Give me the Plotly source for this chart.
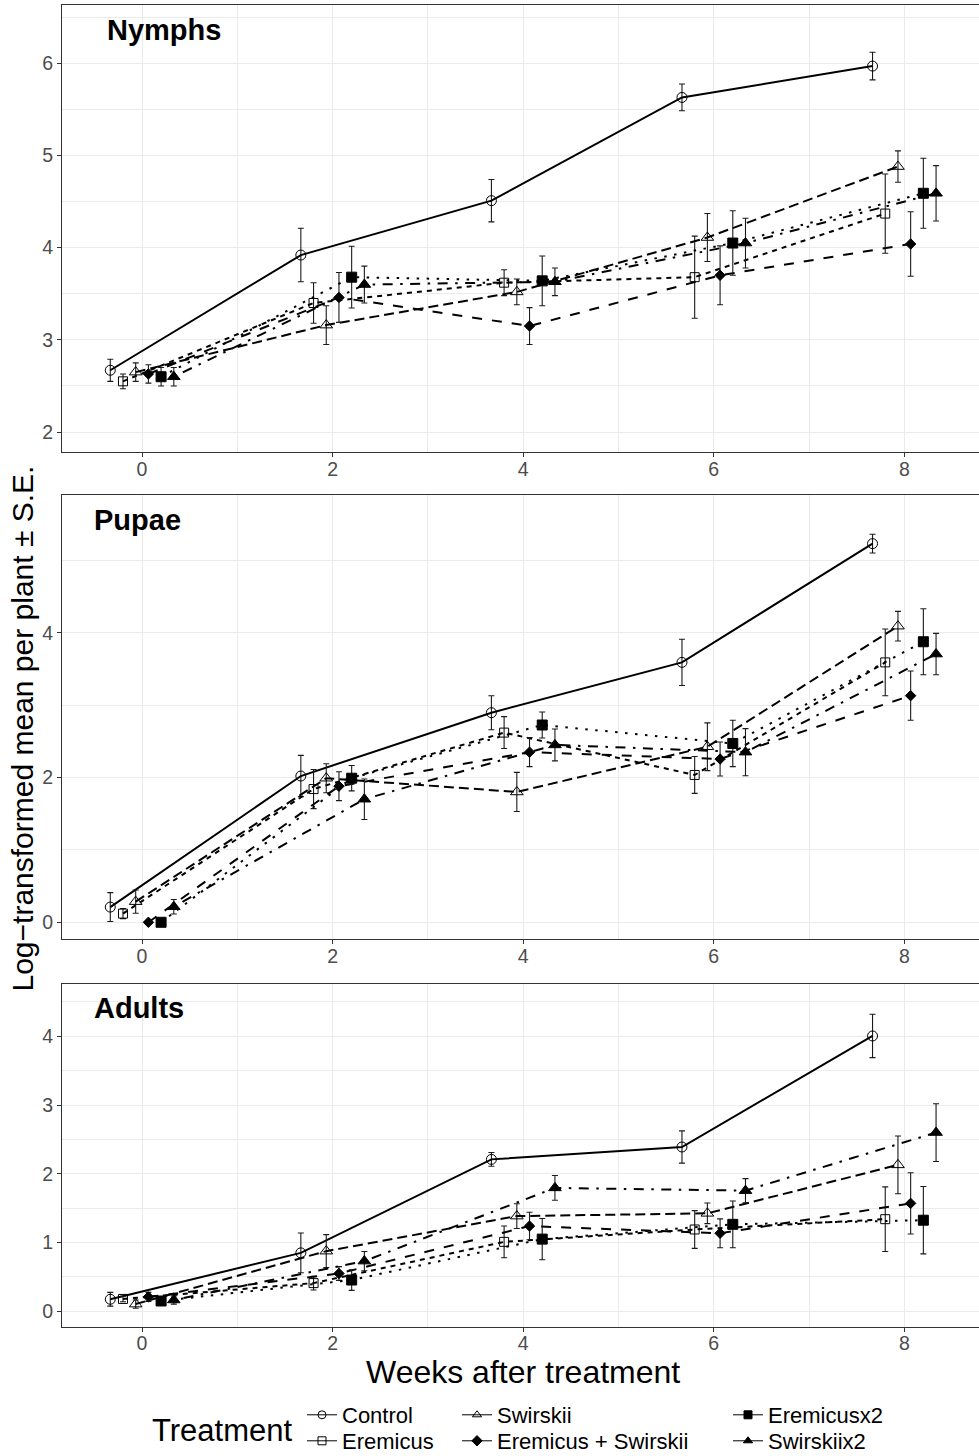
import plotly.graph_objects as go

weeks = [0, 2, 4, 6, 8]
treatments = ["Control", "Eremicus", "Swirskii", "Eremicus + Swirskii", "Eremicusx2", "Swirskiix2"]
dodge = [-1/3, -0.2, -1/15, 1/15, 0.2, 1/3]

# Nymphs
nym_mean = {
    "Control": [2.67, 3.92, 4.51, 5.63, 5.97],
    "Eremicus": [2.55, 3.40, 3.62, 3.68, 4.37],
    "Swirskii": [2.65, 3.16, 3.52, 4.11, 4.88],
    "Eremicus + Swirskii": [2.63, 3.46, 3.15, 3.70, 4.04],
    "Eremicusx2": [2.60, 3.68, 3.64, 4.05, 4.59],
    "Swirskiix2": [2.60, 3.60, 3.63, 4.05, 4.59],
}
nym_se = {
    "Control": [0.12, 0.29, 0.23, 0.145, 0.15],
    "Eremicus": [0.08, 0.22, 0.14, 0.445, 0.43],
    "Swirskii": [0.10, 0.21, 0.14, 0.26, 0.17],
    "Eremicus + Swirskii": [0.10, 0.27, 0.20, 0.32, 0.35],
    "Eremicusx2": [0.10, 0.335, 0.27, 0.35, 0.38],
    "Swirskiix2": [0.10, 0.20, 0.15, 0.27, 0.30],
}
# Pupae
pup_mean = {
    "Control": [0.21, 2.02, 2.895, 3.59, 5.23],
    "Eremicus": [0.12, 1.84, 2.62, 2.035, 3.59],
    "Swirskii": [0.285, 1.99, 1.80, 2.425, 4.09],
    "Eremicus + Swirskii": [0.0, 1.88, 2.35, 2.255, 3.13],
    "Eremicusx2": [0.0, 1.99, 2.725, 2.47, 3.875],
    "Swirskiix2": [0.215, 1.70, 2.45, 2.35, 3.705],
}
pup_se = {
    "Control": [0.20, 0.285, 0.235, 0.32, 0.13],
    "Eremicus": [0.07, 0.27, 0.22, 0.255, 0.46],
    "Swirskii": [0.16, 0.20, 0.27, 0.33, 0.205],
    "Eremicus + Swirskii": [0.0, 0.20, 0.20, 0.235, 0.34],
    "Eremicusx2": [0.0, 0.175, 0.18, 0.32, 0.455],
    "Swirskiix2": [0.10, 0.28, 0.22, 0.325, 0.285],
}
# Adults
adu_mean = {
    "Control": [0.175, 0.85, 2.21, 2.39, 4.005],
    "Eremicus": [0.18, 0.41, 1.01, 1.19, 1.34],
    "Swirskii": [0.105, 0.875, 1.385, 1.425, 2.13],
    "Eremicus + Swirskii": [0.21, 0.55, 1.24, 1.135, 1.57],
    "Eremicusx2": [0.15, 0.455, 1.05, 1.265, 1.325],
    "Swirskiix2": [0.165, 0.73, 1.795, 1.755, 2.60],
}
adu_se = {
    "Control": [0.10, 0.29, 0.10, 0.235, 0.315],
    "Eremicus": [0.04, 0.10, 0.23, 0.275, 0.47],
    "Swirskii": [0.06, 0.24, 0.18, 0.15, 0.42],
    "Eremicus + Swirskii": [0.065, 0.10, 0.20, 0.21, 0.445],
    "Eremicusx2": [0.05, 0.15, 0.30, 0.34, 0.49],
    "Swirskiix2": [0.06, 0.14, 0.18, 0.175, 0.42],
}
panel_titles = ["Nymphs", "Pupae", "Adults"]
x_ticks = [0, 2, 4, 6, 8]

# styles
symbols = ["circle-open", "square-open", "triangle-up-open", "diamond", "square", "triangle-up"]
msizes = [10, 9, 11, 8, 10, 11]
dashes = ["solid", "5px,5px", "10px,5px", "10px,10px", "2.5px,7.5px", "2.5px,7.5px,10px,7.5px"]
FONT = "Liberation Sans, Arial, Helvetica, sans-serif"

W, H = 979, 1456
L = 62
panels = [
    (panel_titles[0], nym_mean, nym_se, (4.7, 452.3), [1.78, 6.636], [2, 3, 4, 5, 6], [2.5, 3.5, 4.5, 5.5, 6.5]),
    (panel_titles[1], pup_mean, pup_se, (494.7, 939.3), [-0.235, 5.906], [0, 2, 4], [1, 3, 5]),
    (panel_titles[2], adu_mean, adu_se, (984.0, 1326.7), [-0.224, 4.761], [0, 1, 2, 3, 4], [0.5, 1.5, 2.5, 3.5, 4.5]),
]

fig = go.Figure()
layout = dict()
annotations = []
for p, (title, means, ses, (top, bot), yr, ytv, ymv) in enumerate(panels):
    ax = "" if p == 0 else str(p + 1)
    for i, t in enumerate(treatments):
        xs = [w + dodge[i] for w in weeks]
        fig.add_trace(go.Scatter(
            x=xs, y=means[t], mode="lines+markers", name=t, showlegend=False,
            xaxis="x" + ax, yaxis="y" + ax,
            line=dict(color="black", width=2, dash=dashes[i]),
            marker=dict(symbol=symbols[i], size=msizes[i], color="black",
                        line=dict(color="black", width=1)),
            error_y=dict(type="data", array=ses[t], visible=True, color="#1a1a1a",
                         thickness=1.1, width=3),
        ))
    dom = [1 - bot / H, 1 - top / H]
    layout["xaxis" + ax] = dict(
        domain=[0, 1], anchor="y" + ax, range=[-0.84, 8.784],
        tickvals=x_ticks, ticks="outside", ticklen=4, tickcolor="#333333", tickwidth=1,
        ticklabelstandoff=-5,
        showline=True, linecolor="#333333", linewidth=1, mirror=True,
        showgrid=True, gridcolor="#EBEBEB", gridwidth=1.1, zeroline=False,
        minor=dict(tickvals=[-1, 1, 3, 5, 7], showgrid=True, gridcolor="#EBEBEB", gridwidth=0.6, ticks=""),
        tickfont=dict(family=FONT, size=19.5, color="#4D4D4D"),
    )
    layout["yaxis" + ax] = dict(
        domain=dom, anchor="x" + ax, range=yr,
        tickvals=ytv, ticks="outside", ticklen=4, tickcolor="#333333", tickwidth=1,
        showline=True, linecolor="#333333", linewidth=1, mirror=False,
        showgrid=True, gridcolor="#EBEBEB", gridwidth=1.1, zeroline=False,
        minor=dict(tickvals=ymv, showgrid=True, gridcolor="#EBEBEB", gridwidth=0.6, ticks=""),
        tickfont=dict(family=FONT, size=19.5, color="#4D4D4D"),
    )

# panel titles
title_pos = [(105, 30), (92, 520), (92, 1008)]
for (px, py), txt in zip(title_pos, panel_titles):
    annotations.append(dict(text="<b>%s</b>" % txt, x=(px - L) / (W - L), y=1 - py / H,
                            xref="paper", yref="paper", xanchor="left", yanchor="middle",
                            showarrow=False, font=dict(family=FONT, size=29, color="black")))

annotations.append(dict(text="Weeks after treatment", x=(523 - L) / (W - L), y=1 - 1372 / H,
                        xref="paper", yref="paper", xanchor="center", yanchor="middle",
                        showarrow=False, font=dict(family=FONT, size=32, color="black")))
annotations.append(dict(text="Log\u2212transformed mean per plant \u00b1 S.E.", x=(21.5 - L) / (W - L),
                        y=1 - 729 / H, xref="paper", yref="paper", xanchor="center", yanchor="middle",
                        textangle=-90, showarrow=False, font=dict(family=FONT, size=30, color="black")))
annotations.append(dict(text="Treatment", x=(150 - L) / (W - L), y=1 - 1430 / H,
                        xref="paper", yref="paper", xanchor="left", yanchor="middle",
                        showarrow=False, font=dict(family=FONT, size=31, color="black")))

# legends: one per entry, arranged in 3 columns x 2 rows (column-wise order)
leg_cols = [302, 457, 728]
leg_rows = [1415, 1441]
for i, t in enumerate(treatments):
    lname = "legend" if i == 0 else "legend%d" % (i + 1)
    col, row = i // 2, i % 2
    fig.add_trace(go.Scatter(
        x=[None], y=[None], mode="lines+markers", name=t, showlegend=True, legend=lname,
        line=dict(color="black", width=1),
        marker=dict(symbol=symbols[i], size=8, color="black", line=dict(color="black", width=1)),
    ))
    layout[lname] = dict(x=(leg_cols[col] - L) / (W - L), y=1 - leg_rows[row] / H,
                         xanchor="left", yanchor="middle", bgcolor="rgba(0,0,0,0)",
                         borderwidth=0, itemwidth=30,
                         font=dict(family=FONT, size=22, color="black"))

fig.update_layout(
    width=W, height=H, margin=dict(l=L, r=0, t=0, b=0, autoexpand=False),
    paper_bgcolor="white", plot_bgcolor="white",
    annotations=annotations, **layout,
)
fig.write_html(
    "out.html",
    config={"displayModeBar": False},
    post_script="document.body.style.margin='0px'; document.documentElement.style.overflow='hidden'; document.body.style.overflow='hidden';",
)
